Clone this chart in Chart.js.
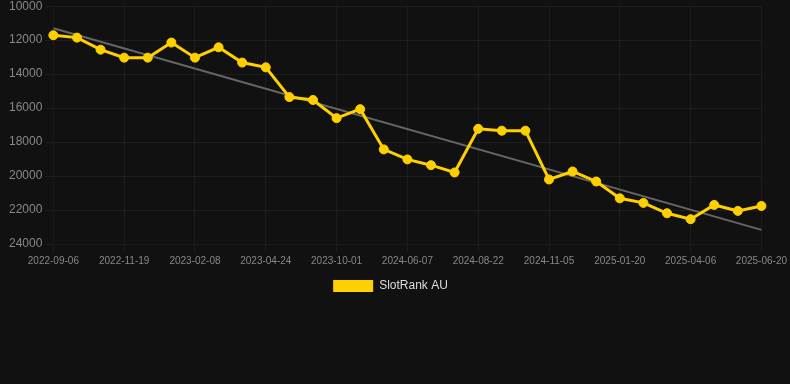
<!DOCTYPE html>
<html>
<head>
<meta charset="utf-8">
<script src="https://cdn.jsdelivr.net/npm/chart.js@4/dist/chart.umd.min.js"></script>
<style>
  html, body { margin: 0; padding: 0; background: #111111; }
  #wrap { width: 790px; height: 306px; margin-top: -4px; position: relative; }
</style>
</head>
<body>
<div id="wrap"><canvas id="rank"></canvas></div>
<script>
// dates of each sample (only every third one is shown on the axis)
const dates = [
    '2022-09-06', '2022-10-01', '2022-10-26', '2022-11-19', '2022-12-14', '2023-01-14',
    '2023-02-08', '2023-03-05', '2023-03-30', '2023-04-24', '2023-06-15', '2023-08-08',
    '2023-10-01', '2024-01-15', '2024-04-01', '2024-06-07', '2024-07-02', '2024-07-27',
    '2024-08-22', '2024-09-16', '2024-10-11', '2024-11-05', '2024-11-30', '2024-12-25',
    '2025-01-20', '2025-02-14', '2025-03-11', '2025-04-06', '2025-05-01', '2025-05-26',
    '2025-06-20'
];

// SlotRank AU position
const rankAU = [
    11710, 11850, 12560, 13030, 13030, 12140, 13030, 12420, 13320, 13600, 15350, 15520,
    16590, 16060, 18430, 19020, 19360, 19790, 17220, 17330, 17330, 20200, 19730, 20320,
    21310, 21580, 22190, 22540, 21700, 22050, 21760
];

// trend line, read at its two ends
const trendStart = 11300;
const trendEnd = 23170;

const yTicks = [10000, 12000, 14000, 16000, 18000, 20000, 22000, 24000];

const trend = dates.map((d, i) => i === 0 ? trendStart : (i === dates.length - 1 ? trendEnd : null));

const ctx = document.getElementById('rank').getContext('2d');
new Chart(ctx, {
    type: 'line',
    data: {
        labels: dates,
        datasets: [{
            label: 'SlotRank AU',
            data: rankAU,
            borderColor: '#ffd000',
            backgroundColor: '#ffd000',
            borderWidth: 3,
            pointRadius: 4.5,
            pointBorderWidth: 1,
            pointHoverRadius: 5,
            tension: 0
        }, {
            label: 'trend',
            data: trend,
            borderColor: '#666666',
            borderWidth: 2,
            pointRadius: 0,
            spanGaps: true
        }]
    },
    options: {
        responsive: true,
        maintainAspectRatio: false,
        animation: false,
        layout: { padding: { left: 6, right: 15 } },
        plugins: {
            legend: {
                position: 'bottom',
                labels: {
                    color: '#dddddd',
                    font: { family: 'Liberation Sans', size: 12 },
                    generateLabels: chart => Chart.defaults.plugins.legend.labels.generateLabels(chart)
                        .filter(l => l.text !== 'trend')
                        .map(l => ({ ...l, lineWidth: 0 }))
                }
            },
            tooltip: { enabled: false }
        },
        scales: {
            x: {
                grid: { color: 'rgba(255,255,255,0.05)' },
                ticks: {
                    color: '#888888',
                    font: { family: 'Liberation Sans', size: 10 },
                    maxRotation: 0,
                    autoSkip: true,
                    maxTicksLimit: 11
                }
            },
            y: {
                reverse: true,
                min: yTicks[0],
                max: yTicks[yTicks.length - 1],
                afterBuildTicks: axis => { axis.ticks = yTicks.map(v => ({ value: v })); },
                grid: { color: 'rgba(255,255,255,0.05)' },
                ticks: {
                    color: '#888888',
                    font: { family: 'Liberation Sans', size: 12 },
                    callback: v => String(v)
                }
            }
        }
    }
});
</script>
</body>
</html>
